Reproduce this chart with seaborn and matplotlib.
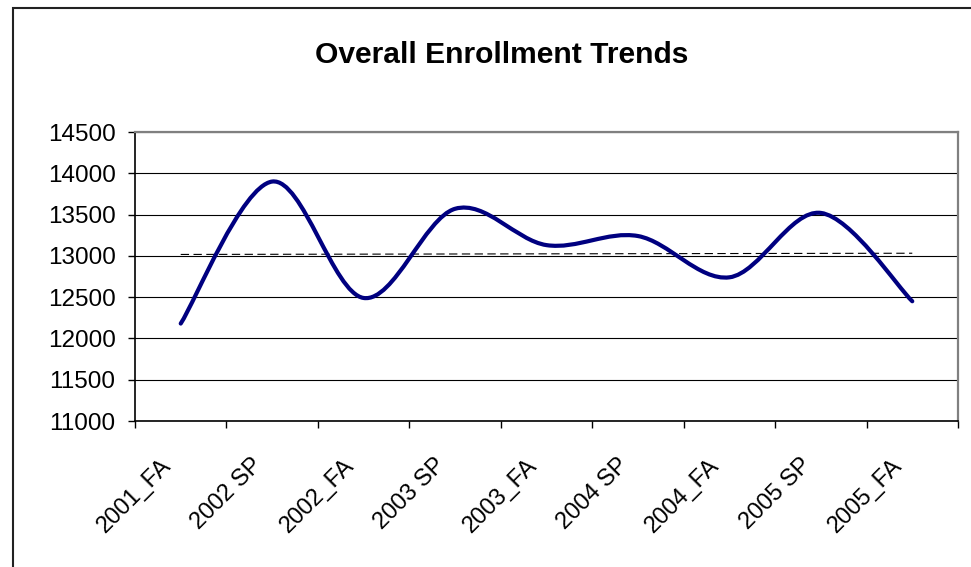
import numpy as np
import matplotlib
matplotlib.use("Agg")
import matplotlib.pyplot as plt
import seaborn as sns
from matplotlib.path import Path
from matplotlib.patches import PathPatch, Rectangle
from matplotlib.ticker import FixedLocator

# === Data ===
terms = ["2001_FA", "2002 SP", "2002_FA", "2003 SP", "2003_FA",
         "2004 SP", "2004_FA", "2005 SP", "2005_FA"]
enrollment = [12180, 13900, 12490, 13570, 13130, 13240, 12740, 13520, 12450]
y_ticks = list(range(11000, 15000, 500))


def smooth_path(xs, ys):
    # Excel-style smoothed line: cubic Bezier segments through each point
    pts = np.column_stack([xs, ys]).astype(float)
    n = len(pts)
    verts = [pts[0]]
    codes = [Path.MOVETO]
    for i in range(n - 1):
        p_prev = pts[max(i - 1, 0)]
        p0, p1 = pts[i], pts[i + 1]
        p_next = pts[min(i + 2, n - 1)]
        c1 = p0 + (p1 - p_prev) / 6.0
        c2 = p1 - (p_next - p0) / 6.0
        verts += [c1, c2, p1]
        codes += [Path.CURVE4] * 3
    return Path(verts, codes)


sns.set_style("white")
plt.rcParams["font.family"] = ["Liberation Sans", "DejaVu Sans"]
plt.rcParams.update({"text.color": "black", "xtick.color": "black",
                     "ytick.color": "black", "axes.labelcolor": "black"})

fig = plt.figure(figsize=(9.71, 5.67), dpi=100)
ax = fig.add_axes([135 / 971, 1 - 421 / 567, (958 - 135) / 971, (421 - 132) / 567])

x = np.arange(len(terms))

# linear trendline
sns.regplot(x=x, y=enrollment, ax=ax, scatter=False, ci=None, truncate=True,
            line_kws=dict(color="black", lw=0.8, linestyle=(0, (7.5, 4)), zorder=3))

# smoothed enrollment curve
ax.add_patch(PathPatch(smooth_path(x, enrollment), facecolor="none",
                       edgecolor="#000080", lw=3.0, capstyle="round",
                       joinstyle="round", zorder=4))

ax.set_xlim(-0.5, len(terms) - 0.5)
ax.set_ylim(11000, 14500)
ax.set_yticks(y_ticks)
ax.set_yticklabels([str(v) for v in y_ticks], fontsize=17.5)
ax.set_xticks(x)
ax.set_xticklabels([])
# rotated category labels, Excel style
for i, term in enumerate(terms):
    ax.annotate(term, xy=(i, 0), xycoords=ax.get_xaxis_transform(),
                xytext=(-13, -41), textcoords="offset pixels",
                rotation=45, ha="right", va="center", rotation_mode="anchor",
                fontsize=17, color="black", annotation_clip=False)
ax.xaxis.set_minor_locator(FixedLocator(np.arange(-0.5, len(terms), 1.0)))
ax.tick_params(axis="x", which="major", length=0)
ax.tick_params(axis="x", which="minor", bottom=True, length=5, width=1, color="black")
ax.tick_params(axis="y", which="major", left=True, length=5, width=1,
               color="black", pad=9)
ax.set_xlabel("")
ax.set_ylabel("")

ax.grid(axis="y", color="black", lw=0.8)
ax.grid(axis="x", visible=False)
ax.set_axisbelow(True)

for side in ["left", "bottom"]:
    ax.spines[side].set_color("black")
    ax.spines[side].set_linewidth(1.2)
for side in ["top", "right"]:
    ax.spines[side].set_color("#808080")
    ax.spines[side].set_linewidth(1.6)

fig.text(502 / 971, 1 - 63 / 567, "Overall Enrollment Trends", ha="center",
         va="baseline", fontsize=21.6, fontweight="bold", color="black")

# chart area border
fig.patches.append(Rectangle((13 / 971, -0.05), 1.0, 1 - 8 / 567 + 0.05,
                             transform=fig.transFigure, fill=False,
                             edgecolor="#222222", lw=1.5))

fig.savefig("out.png", dpi=100)
plt.close(fig)
